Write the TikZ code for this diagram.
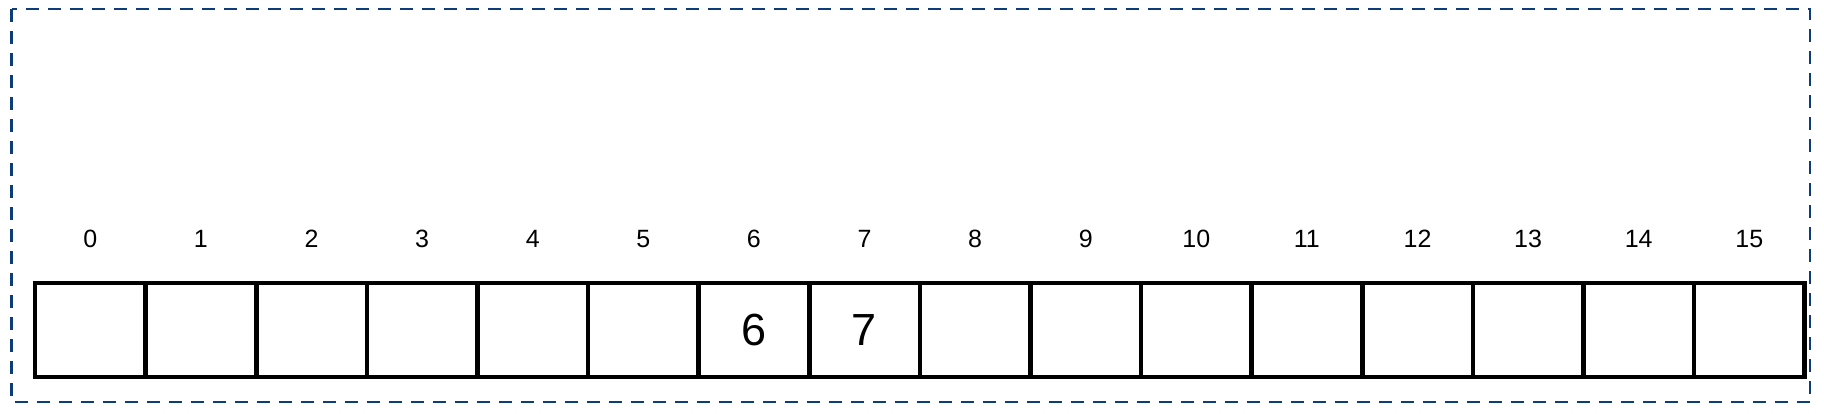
\documentclass[tikz,border=0pt]{standalone}
\usepackage{fontspec}
\setmainfont{Liberation Sans}
\usetikzlibrary{positioning}
\definecolor{frameblue}{RGB}{12,60,122}

\begin{document}
\begin{tikzpicture}[x=1pt, y=-1pt,
		cell/.style={draw, line width=4.6pt, outer sep=0pt, inner sep=0pt, minimum width=110.6pt, minimum height=94pt},
		idx/.style={font=\fontsize{25}{25}\selectfont},
		val/.style={font=\fontsize{45}{45}\selectfont}]
		\useasboundingbox (0,0) rectangle (1824,413);
		\draw[frameblue, line width=2.6pt, dash pattern=on 13pt off 9pt] (11.5,9) rectangle (1810,402);
		
		\node[cell] (c0) at (90.3,330) {};
		\foreach \i [count=\j from 0] in {1,...,15}
			\node[cell, right=0pt of c\j] (c\i) {};
		\foreach \i in {0,...,15}
			\node[idx, above=32pt of c\i] (i\i) {\i};
		
		\node[val] (v6) at (c6) {6};
		\node[val] (v7) at (c7) {7};
	\end{tikzpicture}
\end{document}
